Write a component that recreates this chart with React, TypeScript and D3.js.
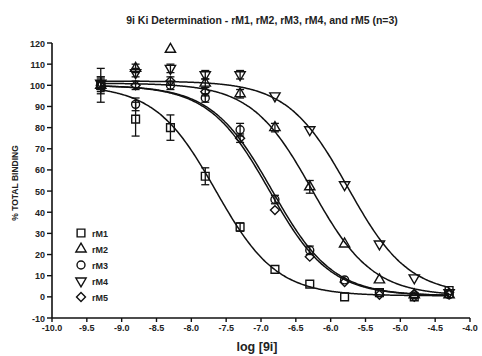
import React from 'react';
import * as d3 from 'd3';

// log concentration of 9i
const logConc = [-9.3, -8.8, -8.3, -7.8, -7.3, -6.8, -6.3, -5.8, -5.3, -4.8, -4.3];

// % total binding, mean of n=3
const rM1 = [100, 84, 80, 57, 33, 13, 6, 0, 2, 0, 3];
const rM2 = [100, 108, 117, 101, 96, 80, 52, 25, 8, 1, 1];
const rM3 = [100, 91, 100, 94, 79, 46, 22, 8, 2, 1, 1];
const rM4 = [101, 106, 108, 105, 105, 95, 79, 53, 25, 9, 2];
const rM5 = [100, 100, 102, 97, 75, 41, 19, 7, 1, 0, 2];

// SEM
const rM1Err = [8, 8, 6, 4, 2, 1, 1, 0, 0, 0, 0];
const rM2Err = [3, 2, 0, 2, 2, 2, 3, 1, 1, 1, 1];
const rM3Err = [4, 3, 2, 2, 3, 2, 2, 1, 1, 1, 1];
const rM4Err = [3, 2, 2, 2, 2, 1, 1, 1, 1, 1, 1];
const rM5Err = [2, 2, 2, 2, 2, 1, 1, 1, 1, 1, 1];

// one-site fit parameters
const seriesNames = ['rM1', 'rM2', 'rM3', 'rM4', 'rM5'];
const fitTop = [100, 101, 100, 102, 100];
const fitBottom = [0.5, 0.5, 0.5, 1, 0.5];
const fitLogIC50 = [-7.65, -6.27, -6.84, -5.75, -6.88];

const xTicks = [-10, -9.5, -9, -8.5, -8, -7.5, -7, -6.5, -6, -5.5, -5, -4.5, -4];
const yTicks = [-10, 0, 10, 20, 30, 40, 50, 60, 70, 80, 90, 100, 110, 120];

const W = 482;
const H = 356;
const font = '"Liberation Sans", Arial, sans-serif';

const x = d3.scaleLinear().domain([-10, -4]).range([52, 470]);
const y = d3.scaleLinear().domain([-10, 120]).range([318, 43]);

// square, triangle, circle, inverted triangle, diamond (rotated square)
const symbolTypes = [d3.symbolSquare, d3.symbolTriangle, d3.symbolCircle, d3.symbolTriangle, d3.symbolSquare];
const symbolSizes = [60, 46, 50, 46, 40];
const symbolRotate = [0, 0, 0, 180, 45];

function Marker({ i, cx, cy }: { i: number; cx: number; cy: number }) {
  const d = d3.symbol().type(symbolTypes[i]).size(symbolSizes[i])() as string;
  return (
    <path
      d={d}
      transform={`translate(${cx},${cy}) rotate(${symbolRotate[i]})`}
      fill="none"
      stroke="#111"
      strokeWidth={1.4}
    />
  );
}

export default function App() {
  const values = [rM1, rM2, rM3, rM4, rM5];
  const errs = [rM1Err, rM2Err, rM3Err, rM4Err, rM5Err];

  const curveX = d3.range(-9.3, -4.3 + 0.001, 0.02);
  const lineGen = d3
    .line<number>()
    .x(d => x(d))
    .curve(d3.curveMonotoneX);

  const curves = seriesNames.map((_, i) =>
    lineGen.y(d => y(fitBottom[i] + (fitTop[i] - fitBottom[i]) / (1 + Math.pow(10, d - fitLogIC50[i]))))(curveX)
  );

  return (
    <div style={{ position: 'absolute', left: 0, top: 0 }}>
      <svg width={W} height={H} viewBox={`0 0 ${W} ${H}`} style={{ display: 'block', background: '#fff' }}>
        <text x={262} y={24} textAnchor="middle" fontFamily={font} fontWeight="bold" fontSize={10.5} fill="#222">
          9i Ki Determination - rM1, rM2, rM3, rM4, and rM5 (n=3)
        </text>

        {/* axes */}
        <line x1={x(-10)} x2={x(-10)} y1={y(120)} y2={y(-10)} stroke="#111" strokeWidth={1.6} />
        <line x1={x(-10)} x2={x(-4)} y1={y(-10)} y2={y(-10)} stroke="#111" strokeWidth={1.6} />
        {yTicks.map(t => (
          <g key={`y${t}`}>
            <line x1={x(-10) - 5} x2={x(-10)} y1={y(t)} y2={y(t)} stroke="#111" strokeWidth={1.4} />
            <text x={x(-10) - 7} y={y(t) + 3.5} textAnchor="end" fontFamily={font} fontWeight="bold" fontSize={9} fill="#222">
              {t}
            </text>
          </g>
        ))}
        {xTicks.map(t => (
          <g key={`x${t}`}>
            <line x1={x(t)} x2={x(t)} y1={y(-10)} y2={y(-10) + 4} stroke="#111" strokeWidth={1.4} />
            <text x={x(t)} y={y(-10) + 13} textAnchor="middle" fontFamily={font} fontWeight="bold" fontSize={9} fill="#222">
              {t.toFixed(1)}
            </text>
          </g>
        ))}
        <text x={257} y={351} textAnchor="middle" fontFamily={font} fontWeight="bold" fontSize={12.5} fill="#222">
          log [9i]
        </text>
        <text
          transform={`translate(18,183) rotate(-90)`}
          textAnchor="middle"
          fontFamily={font}
          fontWeight="bold"
          fontSize={8.5}
          fill="#222"
        >
          % TOTAL BINDING
        </text>

        {/* fitted curves */}
        {curves.map((d, i) => (
          <path key={`c${i}`} d={d as string} fill="none" stroke="#111" strokeWidth={1.5} />
        ))}

        {/* error bars and points */}
        {values.map((vals, i) => (
          <g key={`s${i}`}>
            {vals.map((v, j) =>
              errs[i][j] > 1 ? (
                <g key={`e${j}`} stroke="#111" strokeWidth={1.3}>
                  <line x1={x(logConc[j])} x2={x(logConc[j])} y1={y(v - errs[i][j])} y2={y(v + errs[i][j])} />
                  <line x1={x(logConc[j]) - 4} x2={x(logConc[j]) + 4} y1={y(v - errs[i][j])} y2={y(v - errs[i][j])} />
                  <line x1={x(logConc[j]) - 4} x2={x(logConc[j]) + 4} y1={y(v + errs[i][j])} y2={y(v + errs[i][j])} />
                </g>
              ) : null
            )}
            {vals.map((v, j) => (
              <Marker key={`m${j}`} i={i} cx={x(logConc[j])} cy={y(v)} />
            ))}
          </g>
        ))}

        {/* legend */}
        {seriesNames.map((name, i) => (
          <g key={`l${i}`} transform={`translate(81,${233 + i * 16})`}>
            <Marker i={i} cx={0} cy={0} />
            <text x={11} y={3.5} fontFamily={font} fontWeight="bold" fontSize={9} fill="#222">
              {name}
            </text>
          </g>
        ))}
      </svg>
    </div>
  );
}
